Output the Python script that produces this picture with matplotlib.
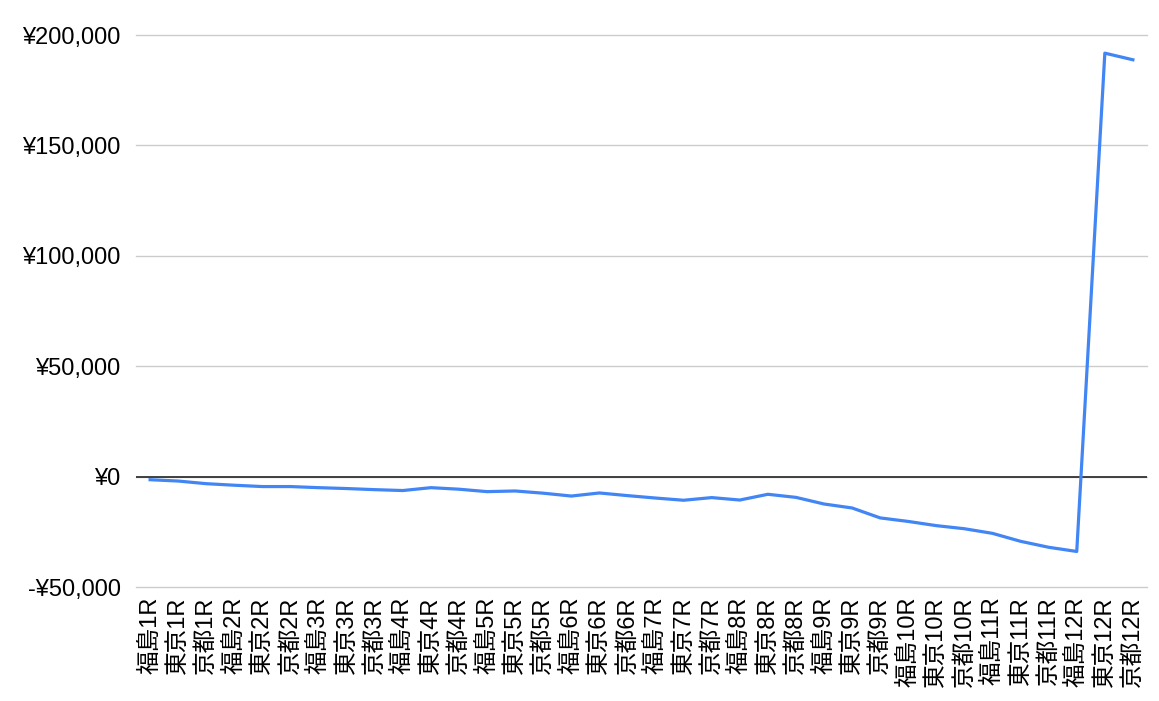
import matplotlib
matplotlib.use("Agg")
import matplotlib.pyplot as plt
from matplotlib.ticker import FuncFormatter, MultipleLocator

plt.rcParams['font.family'] = ['Liberation Sans', 'Noto Sans CJK JP', 'DejaVu Sans']

venues = ["福島", "東京", "京都"]
races = list(range(1, 13))
categories = [f"{v}{r}R" for r in races for v in venues]

values = [
    -1400, -2000, -3200, -3900, -4500, -4500,
    -5000, -5400, -5900, -6300, -5000, -5700,
    -6800, -6500, -7500, -8800, -7400, -8600,
    -9700, -10700, -9500, -10600, -8000, -9400,
    -12400, -14200, -18700, -20300, -22200, -23600,
    -25700, -29300, -32000, -33900, 191800, 188800,
]

fig = plt.figure(figsize=(11.59, 7.01), dpi=100)
ax = fig.add_axes([0.1174, 0.1626, 0.8722, 0.7874])

x = list(range(len(categories)))
ax.plot(x, values, color="#4285F4", linewidth=2.3, zorder=3, solid_joinstyle='round')

ax.set_xlim(-0.5, len(categories) - 0.5)
ax.set_ylim(-50000, 200000)
ax.yaxis.set_major_locator(MultipleLocator(50000))

def yen(v, pos):
    if v < 0:
        return "-¥{:,.0f}".format(-v)
    return "¥{:,.0f}".format(v)

ax.yaxis.set_major_formatter(FuncFormatter(yen))
ax.grid(axis='y', color="#cccccc", linewidth=1.0, zorder=0)
for gl in ax.get_ygridlines():
    gl.set_clip_on(False)
ax.axhline(0, color="#333333", linewidth=1.3, zorder=2)

ax.set_xticks(x)
ax.set_xticklabels(categories, rotation=90, fontsize=17, ha='center', va='top')
ax.tick_params(axis='x', length=0, pad=7)
ax.tick_params(axis='y', length=0, pad=11, labelsize=17)

for s in ax.spines.values():
    s.set_visible(False)

fig.savefig("out.png", dpi=100, facecolor="white")
